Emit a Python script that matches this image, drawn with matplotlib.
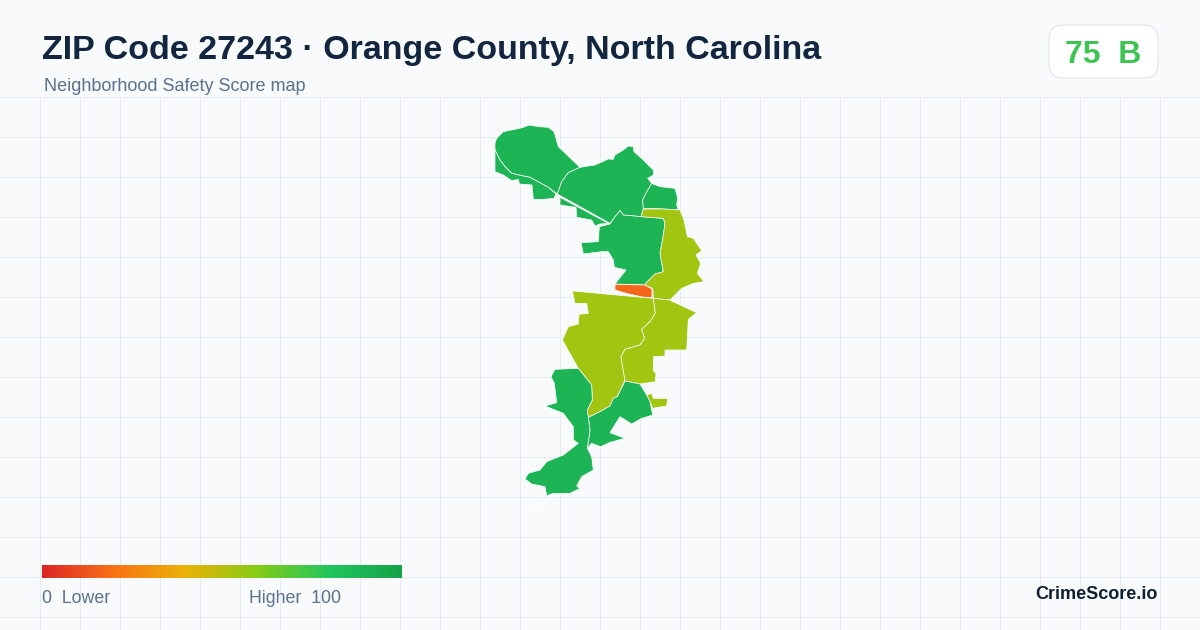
import numpy as np
import matplotlib
matplotlib.use('Agg')
import matplotlib.pyplot as plt
from matplotlib.colors import LinearSegmentedColormap
from matplotlib.patches import FancyBboxPatch, Polygon

plt.rcParams['font.family'] = ['Liberation Sans', 'DejaVu Sans']

# outlines, pixel coords of the two map crops
nw_upper = [(45,100),(50,85),(70,65),(105,58),(130,52),(148,45),(175,50),(205,52),(222,65),(228,85),(235,110),(300,172),(265,188),(245,215),(232,252),(205,232),(150,202),(125,197),(95,190),(75,170),(60,150),(45,120)]
nw_lower = [(45,120),(60,150),(75,170),(95,190),(125,197),(150,202),(205,232),(228,252),(222,265),(190,268),(160,268),(156,225),(118,222),(115,208),(95,212),(70,195),(45,185)]
center = [(300,172),(325,168),(345,165),(385,147),(400,148),(405,135),(430,120),(445,108),(460,110),(462,125),(490,150),(520,180),(520,195),(503,205),(515,220),(495,255),(488,270),(490,295),(483,320),(430,315),(420,302),(405,320),(390,340),(232,252),(245,215),(265,188)]
center_lower = [(240,262),(385,340),(360,342),(345,348),(335,330),(290,322),(288,292),(240,285)]
north_east = [(515,220),(540,230),(585,235),(593,265),(590,285),(595,300),(550,297),(490,295),(488,270),(495,255)]
middle = [(420,302),(430,315),(483,320),(550,325),(555,340),(550,375),(540,430),(550,485),(525,492),(497,520),(497,525),(405,522),(438,480),(403,472),(400,450),(385,425),(365,425),(310,432),(303,398),(355,395),(358,350),(390,342),(405,320)]
east_upper = [(490,297),(550,297),(600,300),(612,330),(622,380),(640,385),(665,422),(648,435),(662,460),(652,490),(672,515),(640,520),(605,535),(570,570),(520,565),(518,535),(497,527),(497,520),(525,492),(550,485),(540,430),(550,375),(555,340),(550,325),(483,320)]
notch = [(405,523),(495,525),(516,537),(516,563),(486,561),(435,549),(405,540)]
south_big = [(187,33),(430,55),(436,100),(420,125),(395,148),(404,175),(390,195),(345,208),(333,230),(345,300),(322,350),(310,355),(300,378),(270,395),(235,412),(232,390),(247,360),(245,315),(205,265),(157,180),(175,140),(205,132),(207,103),(235,100),(230,70),(195,70)]
south_east = [(430,55),(478,60),(560,98),(535,118),(530,210),(465,210),(465,228),(430,230),(430,272),(438,280),(436,305),(390,312),(345,303),(333,230),(345,208),(390,195),(404,175),(395,148),(420,125),(436,100)]
islet = [(410,345),(425,340),(430,355),(473,355),(470,378),(428,385),(420,365)]
lower_east = [(345,303),(390,312),(410,345),(420,365),(428,405),(395,415),(365,432),(330,410),(300,458),(345,475),(300,487),(272,500),(245,490),(232,505),(240,450),(235,412),(270,395),(300,378),(310,355),(322,350)]
lower_west = [(135,268),(205,265),(245,315),(247,360),(232,390),(235,412),(240,450),(232,505),(245,530),(250,570),(215,590),(200,618),(210,625),(180,640),(130,640),(110,647),(105,620),(65,612),(45,597),(55,580),(90,570),(110,545),(160,525),(205,490),(190,480),(190,440),(160,400),(105,378),(140,368),(133,310),(123,290)]
sliver = [(130,650),(85,675),(50,705)]

top_shapes = [nw_upper, nw_lower, center, center_lower, north_east, middle, east_upper, notch]
top_scores = [90, 90, 90, 90, 90, 90, 54, 17]
bottom_shapes = [south_big, south_east, islet, lower_east, lower_west]
bottom_scores = [54, 54, 54, 90, 90]

legend_stops = [0, 0.2, 0.4, 0.6, 0.8, 1]
legend_colors = ['#dc2626', '#f97316', '#eab308', '#84cc16', '#22c55e', '#16a34a']

TEXT_DARK = '#12263f'
TEXT_SOFT = '#5a7190'
GRID = '#e4ecf1'
BG = '#f8fafc'

cmap = LinearSegmentedColormap.from_list('safety', list(zip(legend_stops, legend_colors)))

fig = plt.figure(figsize=(12, 6.3), dpi=100, facecolor=BG)
ax = fig.add_axes([0, 0, 1, 1])
ax.set_xlim(0, 1200)
ax.set_ylim(630, 0)
ax.axis('off')

for x in np.arange(40, 1200, 40):
    ax.plot([x, x], [97, 630], color=GRID, lw=0.72, zorder=1)
for y in np.arange(97, 630, 40):
    ax.plot([0, 1200], [y, y], color=GRID, lw=0.72, zorder=1)


def draw_zone(shape, score, x0, y0):
    pts = [(x0 + x / 3, y0 + y / 3) for x, y in shape]
    ax.add_patch(Polygon(pts, closed=True, facecolor=cmap(score / 100), edgecolor='white', lw=0.5, zorder=3))


for shape, score in zip(top_shapes, top_scores):
    draw_zone(shape, score, 480, 110)
for shape, score in zip(bottom_shapes, bottom_scores):
    draw_zone(shape, score, 510, 280)
ax.plot([510 + x / 3 for x, y in sliver], [280 + y / 3 for x, y in sliver], color='white', lw=0.7, zorder=3)

ax.text(42, 59, 'ZIP Code 27243 · Orange County, North Carolina', fontsize=24.48, fontweight='bold',
        color=TEXT_DARK, va='baseline', ha='left', zorder=5)
ax.text(44, 91, 'Neighborhood Safety Score map', fontsize=12.95, color=TEXT_SOFT, va='baseline', ha='left', zorder=5)

ax.add_patch(FancyBboxPatch((1049, 25), 109, 53, boxstyle='round,pad=0,rounding_size=14',
                            facecolor='white', edgecolor='#dde3ea', lw=0.72, zorder=4))
ax.text(1103, 63, '75  B', fontsize=23, fontweight='bold', color='#3cc552', va='baseline', ha='center', zorder=5)

gradient = np.linspace(0, 1, 360).reshape(1, -1)
ax.imshow(gradient, cmap=cmap, extent=(42, 402, 578, 565), aspect='auto', zorder=4)
ax.set_xlim(0, 1200)
ax.set_ylim(630, 0)

ax.text(42, 603, '0  Lower', fontsize=12.8, color=TEXT_SOFT, va='baseline', ha='left', zorder=5)
ax.text(249, 603, 'Higher  100', fontsize=12.8, color=TEXT_SOFT, va='baseline', ha='left', zorder=5)
ax.text(1158, 599, 'CrimeScore.io', fontsize=13, fontweight='bold', color='#0f1f33', va='baseline', ha='right', zorder=5)

fig.savefig('out.png', dpi=100, facecolor=BG)
